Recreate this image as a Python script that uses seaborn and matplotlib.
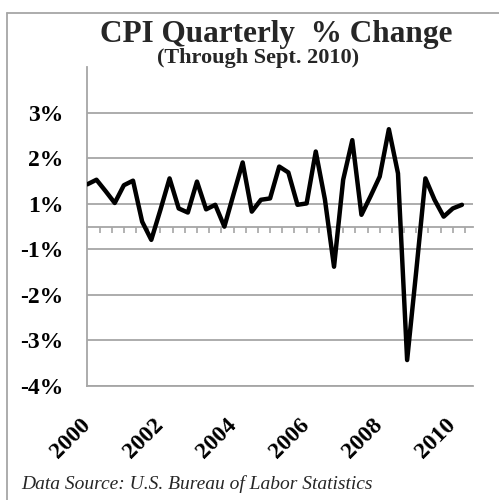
import numpy as np
import pandas as pd
import seaborn as sns
import matplotlib
matplotlib.use('Agg')
import matplotlib.pyplot as plt
from matplotlib.lines import Line2D
from matplotlib.transforms import ScaledTranslation

# quarterly CPI % change, 2000 Q1 .. 2010 Q2
quarters = pd.period_range('2000Q1', periods=42, freq='Q')
cpi_change = [0.93, 1.03, 0.78, 0.52, 0.91, 1.01, 0.11, -0.29, 0.37, 1.06,
              0.40, 0.31, 0.99, 0.38, 0.48, 0.00, 0.71, 1.41, 0.33, 0.59,
              0.62, 1.32, 1.19, 0.48, 0.51, 1.65, 0.60, -0.88, 1.03, 1.90,
              0.26, 0.67, 1.10, 2.14, 1.17, -2.93, -0.97, 1.06, 0.59, 0.22,
              0.40, 0.48]

year_ticks = [2000, 2002, 2004, 2006, 2008, 2010]
year_labels = ['2000', '2002', '2004', '2006', '2008', '2010']
grid_pos = [-3.5, -2.5, -1.5, -0.5, 0.5, 1.5, 2.5]
grid_labels = ['-4%', '-3%', '-2%', '-1%', '1%', '2%', '3%']

df = pd.DataFrame({'year': quarters.year + (quarters.quarter - 1) / 4,
                   'change': cpi_change})

sns.set_theme(style='white')
plt.rcParams['font.family'] = ['Liberation Serif', 'DejaVu Serif']
gray = '#a6a6a6'

fig = plt.figure(figsize=(4.99, 5.0), dpi=100)
ax = fig.add_axes([0.175, 0.228, 0.772, 0.6374])

sns.lineplot(data=df, x='year', y='change', color='black', linewidth=3.2,
             ax=ax, zorder=5)

ax.set_xlim(2000, 2010.54)
ax.set_ylim(-3.5, 3.5)
ax.set_yticks(grid_pos)
ax.set_yticklabels(grid_labels, fontsize=17, fontweight='bold')
ax.set_xticks(year_ticks)
ax.set_xticklabels(year_labels, fontsize=17, fontweight='bold',
                   rotation=45, ha='right', va='center', rotation_mode='anchor')
for lab in ax.get_xticklabels():
    lab.set_transform(lab.get_transform() + ScaledTranslation(0.04, 0, fig.dpi_scale_trans))
ax.tick_params(axis='x', length=0, pad=26, colors='black')
ax.tick_params(axis='y', length=6, width=1.2, color=gray, pad=11, labelcolor='black')
ax.grid(True, axis='y', color=gray, linewidth=1.3)
ax.set_xlabel('')
ax.set_ylabel('')
for side in ['top', 'right']:
    ax.spines[side].set_visible(False)
for side in ['left', 'bottom']:
    ax.spines[side].set_color(gray)
    ax.spines[side].set_linewidth(1.3)

# zero line with small ticks every four months
zero_frac = (0 - ax.get_ylim()[0]) / (ax.get_ylim()[1] - ax.get_ylim()[0])
sec = ax.secondary_xaxis(zero_frac)
sec.set_alignment('bottom')
sec.set_xticks(2000 + np.arange(1, 32) / 3)
sec.tick_params(length=4.5, width=1.2, color=gray, labelbottom=False, labeltop=False)
sec.spines['bottom'].set_color(gray)
sec.spines['bottom'].set_linewidth(1.3)

fig.text(0.553, 0.9166, 'CPI Quarterly  % Change', ha='center', va='baseline',
         fontsize=22.5, fontweight='bold')
fig.text(0.518, 0.873, '(Through Sept. 2010)', ha='center', va='baseline',
         fontsize=16, fontweight='bold')
fig.text(0.043, 0.022, 'Data Source: U.S. Bureau of Labor Statistics', ha='left',
         va='baseline', fontsize=14, style='italic')

# outer chart border (left and top edges visible)
fig.add_artist(Line2D([7 / 499, 7 / 499], [0, 1 - 13 / 500], color=gray, linewidth=1.3))
fig.add_artist(Line2D([7 / 499, 1], [1 - 13 / 500, 1 - 13 / 500], color=gray, linewidth=1.3))

fig.savefig('out.png', dpi=100)
